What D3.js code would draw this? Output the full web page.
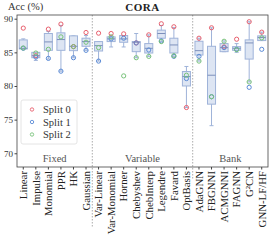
<!DOCTYPE html>
<html lang="en">
<head>
<meta charset="utf-8">
<title>CORA</title>
<style>
  body { margin: 0; background: #fff; }
  text { font-family: "Liberation Serif", "DejaVu Serif", serif; }
</style>
</head>
<body>
<div id="chart"></div>
<script src="https://cdnjs.cloudflare.com/ajax/libs/d3/7.8.5/d3.min.js"></script>
<script>

var methods = ["Linear", "Impulse", "Monomial", "PPR", "HK", "Gaussian",
  "Var-Linear", "Var-Monomial", "Horner", "Chebyshev", "ChebInterp", "Legendre", "Favard", "OptBasis",
  "AdaGNN", "FBGNNI", "ACMGNNI", "FAGNN", "G²CN", "GNN-LF/HF"];
var groups = ["Fixed", "Variable", "Bank"];
var groupSize = [6, 8, 6];

// box stats
var whiskLo = [85.5, 83.8, 84.0, 82.2, 84.2, 85.3, 83.7, 85.8, 85.8, 84.2, 84.4, 86.6, 84.4, 76.8, 83.7, 74.1, 85.1, 85.0, 80.6, 86.75];
var q1      = [85.5, 84.2, 85.3, 85.3, 85.25, 85.9, 85.2, 86.6, 86.5, 85.1, 84.9, 87.1, 84.9, 80.0, 84.6, 77.3, 85.1, 85.3, 84.0, 86.75];
var median  = [85.6, 84.5, 86.55, 86.9, 85.9, 86.6, 86.0, 87.0, 87.0, 86.5, 85.6, 87.8, 86.1, 81.4, 85.25, 81.6, 85.7, 85.6, 86.4, 87.2];
var q3      = [86.85, 85.0, 87.8, 87.9, 87.45, 87.1, 86.6, 87.3, 87.5, 86.6, 86.3, 88.3, 87.1, 82.15, 86.65, 85.9, 86.3, 85.85, 86.85, 87.45];
var whiskHi = [87.0, 85.0, 88.1, 89.0, 87.45, 87.5, 86.6, 87.3, 87.5, 87.8, 87.6, 89.0, 88.7, 82.9, 87.1, 88.65, 86.7, 86.3, 89.55, 88.0];

// per-split accuracy
var split0 = [88.6, 84.5, 88.45, 89.2, 85.85, 87.95, 87.85, 87.8, 87.75, 86.4, 87.6, 89.25, 88.8, 76.8, 87.1, 88.65, 85.8, 86.95, 89.55, 88.0];
var split1 = [85.6, 84.3, 84.1, 82.2, 84.2, 85.3, 83.7, 87.0, 87.1, 86.4, 85.35, 86.7, 84.4, 81.1, 84.4, 78.4, 85.7, 85.45, 79.8, 85.45];
var split2 = [85.65, 84.9, 85.45, 87.3, 85.85, 86.5, 85.7, 87.3, 81.5, 84.2, 84.4, 86.6, 84.5, 81.6, 83.7, 78.4, 86.65, 85.4, 80.6, 87.15];

var yTicks = [70, 75, 80, 85, 90];
var splitNames = ["Split 0", "Split 1", "Split 2"];
var splitColors = ["#e8606e", "#5b8bd6", "#78c27a"];

var fullwidth = 275, fullheight = 243;
var margin = {top: 15, right: 7, bottom: 76, left: 17};
var width = fullwidth - margin.left - margin.right;
var height = fullheight - margin.top - margin.bottom;

var svg = d3.select("#chart").append("svg")
  .attr("width", fullwidth).attr("height", fullheight);
var g = svg.append("g")
  .attr("transform", "translate(" + margin.left + "," + margin.top + ")");

var x = d3.scaleBand().domain(methods).range([0, width]).padding(0);
var y = d3.scaleLinear().domain([67.96, 90.55]).range([height, 0]);
var bw = x.bandwidth() * 0.64;

// group separators + group names
var cum = 0;
groupSize.forEach(function(n, i) {
  var start = cum;
  cum += n;
  var x0 = x(methods[start]), x1 = cum < methods.length ? x(methods[cum]) : width;
  g.append("text")
    .attr("x", (x0 + x1) / 2).attr("y", height - 5)
    .attr("text-anchor", "middle")
    .attr("font-size", 10.5).attr("fill", "#555")
    .text(groups[i]);
  if (cum < methods.length) {
    g.append("line")
      .attr("x1", x1).attr("x2", x1)
      .attr("y1", 0).attr("y2", i == 0 ? height + 61 : height + 12)
      .attr("stroke", "#888").attr("stroke-width", 0.7)
      .attr("stroke-dasharray", "1.5,1.5");
  }
});

// boxes
var boxes = g.selectAll("g.box").data(methods).enter().append("g")
  .attr("class", "box")
  .attr("transform", function(d) { return "translate(" + (x(d) + x.bandwidth() / 2) + ",0)"; });

var boxCol = "#9fb3d9";
boxes.append("line")
  .attr("y1", function(d, i) { return y(whiskLo[i]); })
  .attr("y2", function(d, i) { return y(whiskHi[i]); })
  .attr("stroke", boxCol).attr("stroke-width", 1);
boxes.append("line")
  .attr("x1", -bw / 4).attr("x2", bw / 4)
  .attr("y1", function(d, i) { return y(whiskLo[i]); })
  .attr("y2", function(d, i) { return y(whiskLo[i]); })
  .attr("stroke", boxCol);
boxes.append("line")
  .attr("x1", -bw / 4).attr("x2", bw / 4)
  .attr("y1", function(d, i) { return y(whiskHi[i]); })
  .attr("y2", function(d, i) { return y(whiskHi[i]); })
  .attr("stroke", boxCol);
boxes.append("rect")
  .attr("x", -bw / 2).attr("width", bw)
  .attr("y", function(d, i) { return y(q3[i]); })
  .attr("height", function(d, i) { return y(q1[i]) - y(q3[i]); })
  .attr("fill", "#dde5f3").attr("stroke", boxCol).attr("stroke-width", 1);
boxes.append("line")
  .attr("x1", -bw / 2).attr("x2", bw / 2)
  .attr("y1", function(d, i) { return y(median[i]); })
  .attr("y2", function(d, i) { return y(median[i]); })
  .attr("stroke", "#7d90bb").attr("stroke-width", 1);

// split points
[split0, split1, split2].forEach(function(s, k) {
  boxes.append("circle")
    .attr("cy", function(d, i) { return y(s[i]); })
    .attr("r", 2.1)
    .attr("fill", "none")
    .attr("stroke", splitColors[k]).attr("stroke-width", 1);
});

// frame
g.append("rect").attr("width", width).attr("height", height)
  .attr("fill", "none").attr("stroke", "#444").attr("stroke-width", 0.8);

// axes
var yAxis = g.append("g").call(d3.axisLeft(y).tickValues(yTicks).tickSize(2.5).tickPadding(1.5));
yAxis.select(".domain").remove();
yAxis.selectAll("text").attr("font-size", 9).attr("font-family", "Liberation Serif").attr("fill", "#333");
yAxis.selectAll("line").attr("stroke", "#444");

var xAxis = g.append("g").attr("transform", "translate(0," + height + ")")
  .call(d3.axisBottom(x).tickSize(2.5).tickPadding(2));
xAxis.select(".domain").remove();
xAxis.selectAll("line").attr("stroke", "#444");
xAxis.selectAll("text")
  .attr("font-size", 10.8).attr("font-family", "Liberation Serif").attr("fill", "#222")
  .attr("transform", "rotate(-90)")
  .attr("text-anchor", "end")
  .attr("x", -4).attr("y", 0).attr("dy", "0.35em");

// legend
var lg = g.append("g").attr("transform", "translate(4,85)");
lg.append("rect").attr("width", 56).attr("height", 44).attr("rx", 2)
  .attr("fill", "#fff").attr("stroke", "#ddd").attr("stroke-width", 0.8);
splitNames.forEach(function(n, k) {
  lg.append("circle").attr("cx", 11).attr("cy", 9.5 + k * 12.5).attr("r", 1.7)
    .attr("fill", "none").attr("stroke", splitColors[k]).attr("stroke-width", 0.9);
  lg.append("text").attr("x", 22).attr("y", 9.5 + k * 12.5).attr("dy", "0.35em")
    .attr("font-size", 10.5).attr("fill", "#333").text(n);
});

// titles
svg.append("text").attr("x", 8).attr("y", 10)
  .attr("font-size", 10.5).attr("fill", "#333").text("Acc (%)");
svg.append("text").attr("x", margin.left + width / 2).attr("y", 11)
  .attr("text-anchor", "middle").attr("font-size", 11).attr("font-weight", "bold")
  .attr("letter-spacing", 0.5).attr("fill", "#222").text("CORA");

</script>
</body>
</html>
